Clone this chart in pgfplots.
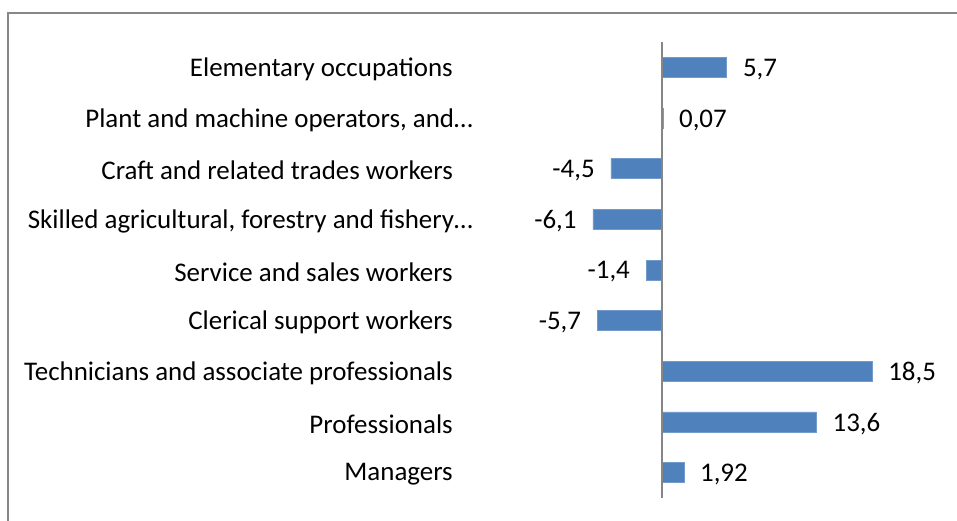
\documentclass[border=0pt]{standalone}
\usepackage{pgfplots}
\pgfplotsset{compat=1.18}
\usepackage{pgfplotstable}
\usepackage{fontspec}
\setmainfont{Carlito}
\definecolor{barblue}{HTML}{4F81BD}
\definecolor{framegray}{HTML}{878787}
\definecolor{axgray}{HTML}{868686}
\pgfplotstableread{
y x lab
0 1.92 1,92
1 13.6 13,6
2 18.5 18,5
7 0.07 0,07
8 5.7 5,7
}\pos
\pgfplotstableread{
y x lab
3 -5.7 -5,7
4 -1.4 -1,4
5 -6.1 -6,1
6 -4.5 -4,5
}\negs
\begin{document}
\begin{tikzpicture}
\useasboundingbox (0,0) rectangle (717.75pt,390.75pt);
\draw[framegray, line width=1.6pt] (6pt,-20pt) -- (6pt,381pt) -- (740pt,381pt);
\begin{axis}[
  at={(345pt,17.25pt)}, anchor=south west,
  scale only axis, width=363.75pt, height=342pt,
  xmin=-17.80, xmax=24.93, ymin=-0.5, ymax=8.5,
  xbar, bar width=15pt, bar shift=0pt,
  axis line style={draw=none},
  major tick length=0pt,
  xtick=\empty,
  ytick={0,...,8},
  yticklabels={Managers,Professionals,Technicians and associate professionals,Clerical support workers,Service and sales workers,{Skilled agricultural, forestry and fishery\ldots\hspace*{-15pt}},Craft and related trades workers,{Plant and machine operators, and\ldots\hspace*{-15pt}},Elementary occupations},
  yticklabel style={anchor=east, inner sep=0pt, xshift=-5.25pt, yshift=-1.5pt, font=\fontsize{20.2}{23}\selectfont},
  clip=false,
  point meta=explicit symbolic,
  nodes near coords,
]
\addplot[fill=barblue, draw=barblue!80!white,
  every node near coord/.style={anchor=west, inner sep=0pt, xshift=12pt, yshift=-1.5pt, font=\fontsize{20.2}{23}\selectfont, text=black}]
  table[x=x, y=y, meta=lab] {\pos};
\addplot[fill=barblue, draw=barblue!80!white,
  every node near coord/.style={anchor=east, inner sep=0pt, xshift=-12pt, yshift=-1.5pt, font=\fontsize{20.2}{23}\selectfont, text=black}]
  table[x=x, y=y, meta=lab] {\negs};
\draw[axgray, line width=1.1pt] (axis cs:0,-0.5) -- (axis cs:0,8.5);
\end{axis}
\end{tikzpicture}
\end{document}
